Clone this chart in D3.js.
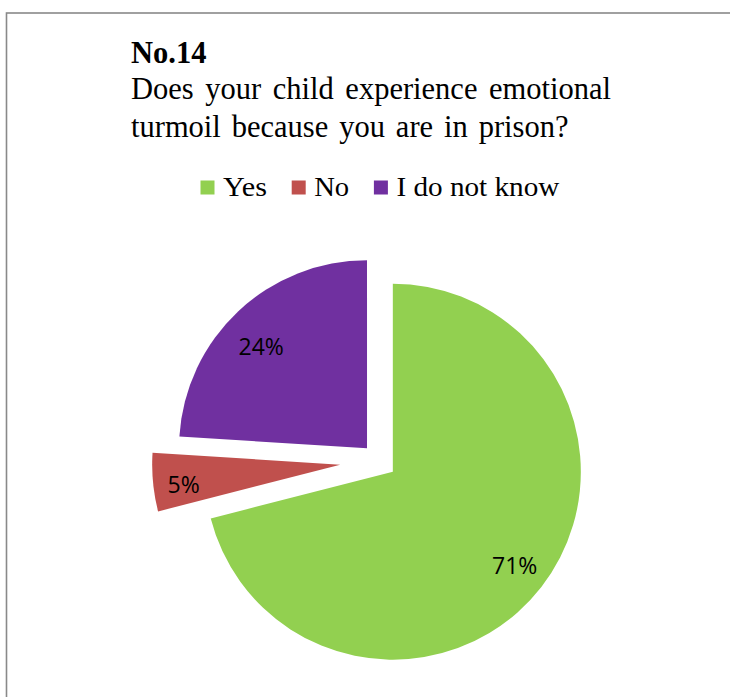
<!DOCTYPE html>
<html>
<head>
<meta charset="utf-8">
<script src="https://cdn.jsdelivr.net/npm/d3@7"></script>
<style>
  html, body { margin: 0; padding: 0; background: #fff; }
  svg { display: block; }
</style>
</head>
<body>
<svg id="chart" width="730" height="697"></svg>
<script>
// Survey answers
const categories = ["Yes", "No", "I do not know"];
const values = [71, 5, 24];
const labels = ["71%", "5%", "24%"];
const colors = ["#92D050", "#C0504D", "#7030A0"];
const titleLines = ["Does your child experience emotional", "turmoil because you are in prison?"];

// Layout
const W = 730, H = 697;
const cx = 379, cy = 461, radius = 188;
const explode = [17.5, 39, 17.5];
const labelFrac = [0.82, 0.84, 0.78];
const labelTurn = [0, -2, -3]; // degrees, small nudge of each label around its slice

const svg = d3.select("#chart");

// Frame
svg.append("rect")
  .attr("x", 6.5).attr("y", 13)
  .attr("width", W + 20).attr("height", H + 20)
  .attr("fill", "#fff")
  .attr("stroke", "#898989")
  .attr("stroke-width", 1.6);

// Title
const serif = "'Liberation Serif', 'Times New Roman', serif";
svg.append("text")
  .attr("x", 131).attr("y", 63)
  .attr("font-family", serif)
  .attr("font-weight", "bold")
  .attr("font-size", 30.5)
  .attr("fill", "#000")
  .text("No.14");

// Question lines, words spread to fill each line's width
const lineEnds = [611, 568.5];
const lineBaselines = [98.5, 136.5];
titleLines.forEach((line, i) => {
  const t = svg.append("text")
    .attr("x", 131).attr("y", lineBaselines[i])
    .attr("font-family", serif)
    .attr("font-size", 30.5)
    .attr("fill", "#000")
    .text(line);
  const natural = t.node().getComputedTextLength();
  const gaps = line.split(" ").length - 1;
  const extra = (lineEnds[i] - 131 - natural) / gaps;
  t.style("word-spacing", extra + "px");
});

// Legend
const legendY = 196;
const sw = 14;
let lx = 200.5;
const legendWidths = [44, 35, 163];
categories.forEach((c, i) => {
  svg.append("rect")
    .attr("x", lx).attr("y", legendY - 15.5)
    .attr("width", sw).attr("height", sw)
    .attr("fill", colors[i]);
  svg.append("text")
    .attr("x", lx + sw + 8.5).attr("y", legendY)
    .attr("font-family", serif)
    .attr("font-size", 27.5)
    .attr("fill", "#000")
    .attr("textLength", legendWidths[i])
    .attr("lengthAdjust", "spacingAndGlyphs")
    .text(c);
  lx += sw + 8.5 + legendWidths[i] + 24.7;
});

// Pie
const pie = d3.pie().sort(null).value(d => d)(values);
const arc = d3.arc().innerRadius(0).outerRadius(radius);

const g = svg.append("g").attr("transform", `translate(${cx},${cy})`);
const slices = g.selectAll("g.slice")
  .data(pie)
  .join("g")
  .attr("class", "slice")
  .attr("transform", (d, i) => {
    const mid = (d.startAngle + d.endAngle) / 2;
    return `translate(${Math.sin(mid) * explode[i]},${-Math.cos(mid) * explode[i]})`;
  });

slices.append("path")
  .attr("d", arc)
  .attr("fill", (d, i) => colors[i]);

slices.append("text")
  .attr("transform", (d, i) => {
    const r = radius * labelFrac[i];
    const a = (d.startAngle + d.endAngle) / 2 + labelTurn[i] * Math.PI / 180;
    return `translate(${Math.sin(a) * r},${-Math.cos(a) * r})`;
  })
  .attr("text-anchor", "middle")
  .attr("dy", "0.35em")
  .attr("font-family", "'Open Sans', 'Noto Sans', sans-serif")
  .attr("font-size", 23)
  .attr("fill", "#000")
  .text((d, i) => labels[i]);
</script>
</body>
</html>
